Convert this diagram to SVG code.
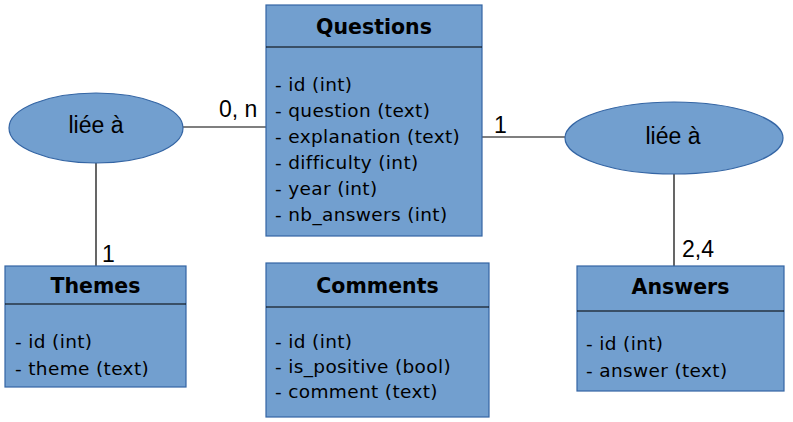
<svg xmlns="http://www.w3.org/2000/svg" width="793" height="422" viewBox="0 0 793 422">
<style>
.box{fill:#729fcf;stroke:#3465a4;stroke-width:1.2}
.div{stroke:#000;stroke-width:1.2}
.title{font-family:"DejaVu Sans",Verdana,sans-serif;font-weight:bold;font-size:20.5px;fill:#000;text-anchor:middle}
.attr{font-family:"DejaVu Sans",Verdana,sans-serif;font-size:18.5px;letter-spacing:0.35px;fill:#000}
.lbl{font-family:"Liberation Sans",Arial,sans-serif;font-size:23px;fill:#000}
.conn line{stroke:#000;stroke-width:1.2}
</style>
<rect width="793" height="422" fill="#fff"/>
<g id="connectors" class="conn">
<line x1="183" y1="127" x2="266" y2="127"/>
<line x1="96" y1="163" x2="96" y2="266"/>
<line x1="482" y1="137" x2="565" y2="137"/>
<line x1="674" y1="174" x2="674" y2="266"/>
<text class="lbl" x="219" y="117">0, n</text>
<text class="lbl" x="102" y="262">1</text>
<text class="lbl" x="494" y="133">1</text>
<text class="lbl" x="682" y="257">2,4</text>
</g>
<g id="questions">
<rect class="box" x="266" y="5" width="216" height="231"/>
<line class="div" x1="266" y1="47" x2="482" y2="47"/>
<text class="title" x="374" y="34">Questions</text>
<text class="attr" x="275" y="91">- id (int)</text>
<text class="attr" x="275" y="117">- question (text)</text>
<text class="attr" x="275" y="143">- explanation (text)</text>
<text class="attr" x="275" y="169">- difficulty (int)</text>
<text class="attr" x="275" y="195">- year (int)</text>
<text class="attr" x="275" y="221">- nb_answers (int)</text>
</g>
<g id="rel-themes">
<ellipse class="box" cx="96" cy="128" rx="87" ry="35"/>
<text class="lbl" x="96" y="133" text-anchor="middle">liée à</text>
</g>
<g id="rel-answers">
<ellipse class="box" cx="674" cy="138" rx="109" ry="36"/>
<text class="lbl" x="673" y="144" text-anchor="middle">liée à</text>
</g>
<g id="themes">
<rect class="box" x="5" y="266" width="181" height="121"/>
<line class="div" x1="5" y1="304" x2="186" y2="304"/>
<text class="title" x="95.5" y="293">Themes</text>
<text class="attr" x="15" y="348">- id (int)</text>
<text class="attr" x="15" y="375">- theme (text)</text>
</g>
<g id="comments">
<rect class="box" x="266" y="263" width="223" height="154"/>
<line class="div" x1="266" y1="307" x2="489" y2="307"/>
<text class="title" x="377.5" y="293">Comments</text>
<text class="attr" x="275" y="348">- id (int)</text>
<text class="attr" x="275" y="373">- is_positive (bool)</text>
<text class="attr" x="275" y="398">- comment (text)</text>
</g>
<g id="answers">
<rect class="box" x="577" y="266" width="207" height="125"/>
<line class="div" x1="577" y1="311" x2="784" y2="311"/>
<text class="title" x="680.5" y="293.5">Answers</text>
<text class="attr" x="586" y="350">- id (int)</text>
<text class="attr" x="586" y="377">- answer (text)</text>
</g>
</svg>
